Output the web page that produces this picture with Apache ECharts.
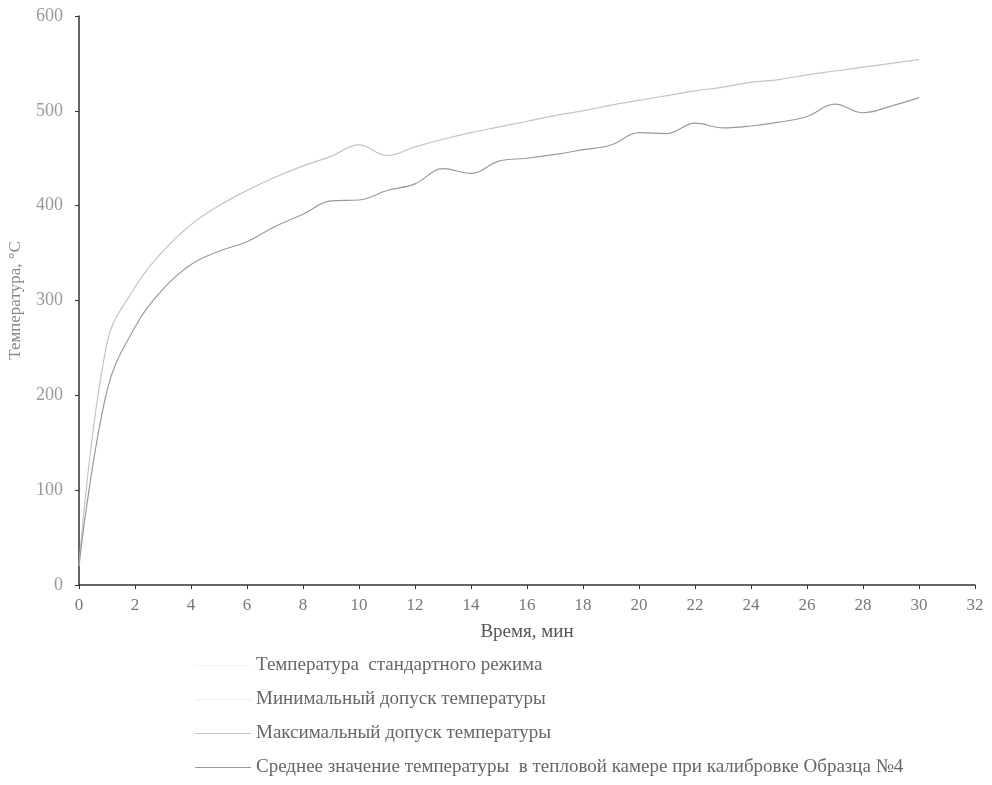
<!DOCTYPE html>
<html><head><meta charset="utf-8">
<script src="https://cdn.jsdelivr.net/npm/echarts@6/dist/echarts.min.js"></script>
<style>html,body{margin:0;padding:0;background:#fff}#c{width:992px;height:785px}</style>
</head><body><div id="c"></div>
<script>
const timeMin = [0,1,2,3,4,5,6,7,8,9,10,11,12,13,14,15,16,17,18,19,20,21,22,23,24,25,26,27,28,29,30];
const maxTolerance = [20,255,314,352,380,400,416,430,442,452,464,453,462,470,477,483,489,495,500,506,511,516,521,525,530,533,538,542,546,550,554];
const avgTemp = [20,205,272,312,338,352,362,378,391,405,406,416,423,439,434,447,450,454,459,464,477,476,487,482,484,488,494,507,498,505,514];
const seriesNames = [
  'Температура  стандартного режима',
  'Минимальный допуск температуры',
  'Максимальный допуск температуры',
  'Среднее значение температуры  в тепловой камере при калибровке Образца №4'
];
const yTicks = [0,100,200,300,400,500,600];
const xTicks = [0,2,4,6,8,10,12,14,16,18,20,22,24,26,28,30,32];

const pair = (xs, ys) => xs.map((x, i) => [x, ys[i]]);
const font = '"Liberation Serif", "DejaVu Serif", serif';
const chart = echarts.init(document.getElementById('c'));
chart.setOption({
  animation: false,
  backgroundColor: '#fff',
  textStyle: { fontFamily: font },
  grid: { left: 79, right: 17, top: 16, bottom: 200, containLabel: false, outerBoundsMode: 'none' },
  xAxis: {
    type: 'value', min: xTicks[0], max: xTicks[xTicks.length-1], interval: 2,
    name: 'Время, мин', nameLocation: 'middle', nameGap: 38,
    nameTextStyle: { fontFamily: font, fontSize: 19, color: '#555' },
    axisLine: { lineStyle: { color: '#333', width: 1.5 } },
    axisTick: { show: true, length: 4, lineStyle: { color: '#333' } },
    axisLabel: { fontFamily: font, fontSize: 17, color: '#777', margin: 12 },
    splitLine: { show: false }
  },
  yAxis: {
    type: 'value', min: yTicks[0], max: yTicks[yTicks.length-1], interval: 100,
    name: 'Температура, °С', nameLocation: 'middle', nameGap: 55, nameRotate: 90,
    nameTextStyle: { fontFamily: font, fontSize: 17, color: '#888' },
    axisLine: { show: true, lineStyle: { color: '#333', width: 1.5 } },
    axisTick: { show: true, length: 4, lineStyle: { color: '#333' } },
    axisLabel: { fontFamily: font, fontSize: 18, color: '#999', margin: 16 },
    splitLine: { show: false }
  },
  legend: {
    orient: 'vertical', left: 190, top: 650, itemGap: 13, itemWidth: 56, itemHeight: 14,
    icon: 'path://M0,7L56,7L56,8L0,8Z',
    textStyle: { fontFamily: font, fontSize: 19, lineHeight: 21, color: '#666' },
    data: seriesNames
  },
  series: [
    { name: seriesNames[0], type: 'line', data: [], showSymbol: false, color: '#f4f4f4', lineStyle: { color: '#f4f4f4', width: 1 } },
    { name: seriesNames[1], type: 'line', data: [], showSymbol: false, color: '#eeeeee', lineStyle: { color: '#eeeeee', width: 1 } },
    { name: seriesNames[2], type: 'line', data: pair(timeMin, maxTolerance), smooth: 0.4, showSymbol: false,
      color: '#c4c4c4', lineStyle: { color: '#c4c4c4', width: 1.2 } },
    { name: seriesNames[3], type: 'line', data: pair(timeMin, avgTemp), smooth: 0.4, showSymbol: false,
      color: '#9a9a9a', lineStyle: { color: '#9a9a9a', width: 1.2 } }
  ]
});
</script></body></html>
